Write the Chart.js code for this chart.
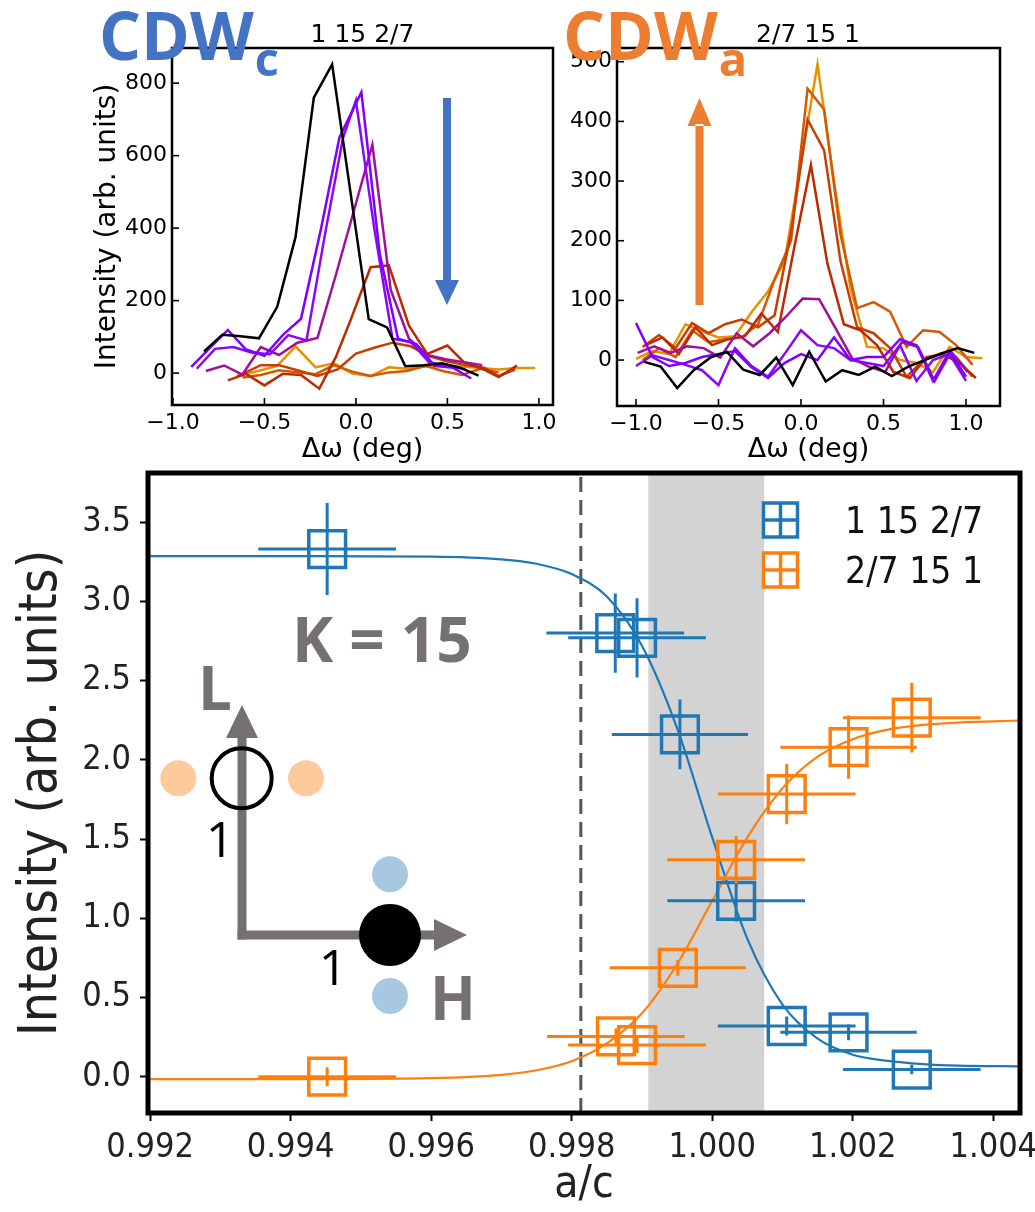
<!DOCTYPE html>
<html><head><meta charset="utf-8">
<script src="https://cdn.jsdelivr.net/npm/chart.js@4.4.1/dist/chart.umd.min.js"></script>
<style>
html,body{margin:0;padding:0;background:#fff;width:1035px;height:1212px;overflow:hidden;}
canvas{position:absolute;}
#c1{left:0;top:0;}
#c2{left:560px;top:0;}
#c3{left:0;top:460px;}
</style></head><body>
<canvas id="c1" width="560" height="470"></canvas>
<canvas id="c2" width="475" height="470"></canvas>
<canvas id="c3" width="1035" height="752"></canvas>
<script>
// ================= DATA =================
// shared omega tick labels
const omegaTicks = [-1, -0.5, 0, 0.5, 1];
const lineColors = ['#000000','#8000ff','#8c07f3','#a11096','#bd2a00','#c93e00','#d55700','#e89100'];

// ---- top-left panel: CDW_c, (1 15 2/7) ----
const tlTitle = '1 15 2/7';
const tlYTicks = [0, 200, 400, 600, 800];
const tl0X = [-0.83,-0.73,-0.63,-0.53,-0.43,-0.33,-0.23,-0.13,-0.03,0.07,0.17,0.27,0.37,0.47,0.57,0.67];
const tl0Y = [60,106,102,96,183,375,760,852,500,149,126,19,22,27,15,-7];
const tl1X = [-0.90,-0.80,-0.70,-0.60,-0.50,-0.40,-0.30,-0.19,-0.09,0.03,0.13,0.23,0.33,0.43,0.53,0.63];
const tl1Y = [17,68,119,65,48,105,150,400,650,775,330,95,80,20,15,-15];
const tl2X = [-0.87,-0.77,-0.67,-0.57,-0.47,-0.37,-0.27,-0.17,-0.07,0.00,0.10,0.20,0.30,0.40,0.50,0.60];
const tl2Y = [12,67,72,57,52,105,90,380,650,752,400,95,86,30,20,10];
const tl3X = [-0.82,-0.72,-0.62,-0.52,-0.42,-0.32,-0.21,-0.11,-0.01,0.09,0.19,0.29,0.39,0.49,0.59,0.69];
const tl3Y = [6,21,-4,72,50,84,97,270,450,630,230,95,50,38,30,22];
const tl4X = [-0.70,-0.60,-0.50,-0.40,-0.30,-0.20,-0.11,-0.03,0.08,0.18,0.29,0.39,0.50,0.59,0.69,0.78,0.88];
const tl4Y = [-20,-2,-34,-2,-5,-43,44,145,292,297,131,53,76,30,12,-11,21];
const tl5X = [-0.65,-0.52,-0.42,-0.32,-0.21,-0.10,0.00,0.10,0.20,0.30,0.40,0.50,0.60,0.70,0.78,0.87];
const tl5Y = [-10,22,22,8,-8,10,54,70,84,74,47,32,22,15,-8,10];
const tl6X = [-0.62,-0.52,-0.42,-0.32,-0.22,-0.12,-0.02,0.08,0.18,0.28,0.38,0.48,0.58,0.68,0.78];
const tl6Y = [-12,-5,8,2,-3,22,4,-8,2,6,20,5,-5,12,2];
const tl7X = [-0.65,-0.54,-0.43,-0.33,-0.22,-0.12,-0.02,0.08,0.18,0.28,0.38,0.48,0.58,0.68,0.78,0.88,0.98];
const tl7Y = [-8,5,20,74,16,27,-1,-8,16,12,18,20,18,14,10,14,14];

// ---- top-right panel: CDW_a, (2/7 15 1) ----
const trTitle = '2/7 15 1';
const trYTicks = [0, 100, 200, 300, 400, 500];
const tr0X = [-0.95,-0.85,-0.75,-0.65,-0.55,-0.45,-0.35,-0.25,-0.15,-0.05,0.05,0.15,0.25,0.35,0.45,0.55,0.65,0.75,0.85,0.95,1.05];
const tr0Y = [-3,-11,-47,-17,4,14,-16,-25,4,-42,14,-36,-17,-25,-11,-27,-11,0,11,20,12];
const tr1X = [-1.0,-0.9,-0.8,-0.7,-0.6,-0.5,-0.4,-0.3,-0.2,-0.1,0.0,0.1,0.2,0.3,0.4,0.5,0.6,0.7,0.8,0.9,1.0];
const tr1Y = [62,5,-10,-5,5,10,15,-12,-30,-5,10,0,38,0,5,5,35,25,-35,15,-28];
const tr2X = [-1.0,-0.9,-0.8,-0.7,-0.6,-0.5,-0.4,-0.3,-0.2,-0.1,0.0,0.1,0.2,0.3,0.4,0.5,0.6,0.7,0.8,0.9,1.0];
const tr2Y = [-10,8,0,-8,-17,-42,20,-10,-28,10,50,25,20,0,-5,-10,25,-35,0,10,-35];
const tr3X = [-0.99,-0.89,-0.79,-0.69,-0.59,-0.49,-0.39,-0.29,-0.19,-0.09,0.01,0.11,0.21,0.31,0.41,0.51,0.61,0.71,0.81,0.91,1.01];
const tr3Y = [12,23,12,23,20,4,45,23,45,73,103,102,53,3,-11,-20,30,22,-35,14,-20];
const tr4X = [-0.94,-0.84,-0.74,-0.64,-0.54,-0.44,-0.34,-0.24,-0.14,-0.04,0.06,0.16,0.26,0.36,0.46,0.56,0.66,0.76,0.86,0.96,1.06];
const tr4Y = [25,38,10,55,25,35,40,78,47,190,327,162,60,50,25,-20,-30,5,10,-5,-30];
const tr5X = [-0.96,-0.86,-0.76,-0.66,-0.56,-0.46,-0.36,-0.26,-0.16,-0.06,0.04,0.14,0.24,0.34,0.44,0.54,0.64,0.74,0.84,0.94,1.04];
const tr5Y = [22,42,20,62,45,60,68,55,75,215,403,352,165,55,45,20,-28,0,10,5,-28];
const tr6X = [-0.96,-0.86,-0.76,-0.66,-0.56,-0.46,-0.36,-0.26,-0.16,-0.06,0.04,0.14,0.24,0.34,0.44,0.54,0.64,0.74,0.84,0.94,1.04];
const tr6Y = [0,20,5,50,30,35,38,60,135,200,455,420,210,87,97,81,22,50,47,25,-8];
const tr7X = [-1.0,-0.9,-0.8,-0.7,-0.6,-0.5,-0.4,-0.3,-0.2,-0.1,0.0,0.1,0.2,0.3,0.4,0.5,0.6,0.7,0.8,0.9,1.0,1.1];
const tr7Y = [2,15,10,60,48,38,40,80,115,165,330,496,300,120,22,20,0,-5,-20,22,5,3];

// ---- bottom panel: intensity vs a/c ----
const acTicks = [0.992,0.994,0.996,0.998,1.000,1.002,1.004];
const intTicks = [0,0.5,1,1.5,2,2.5,3,3.5];
const blueLabel = '1 15 2/7';
const blueAC = [0.99452,0.99862,0.99893,0.99954,1.00034,1.00106,1.00194,1.00284];
const blueI = [3.33,2.80,2.77,2.16,1.11,0.32,0.28,0.045];
const blueACerr = [0.00098,0.00098,0.00098,0.00097,0.00098,0.00098,0.00097,0.00098];
const blueIerr = [0.29,0.25,0.25,0.22,0.13,0.06,0.05,0.03];
const orangeLabel = '2/7 15 1';
const orangeAC = [0.99452,0.99863,0.99893,0.99951,1.00034,1.00106,1.00194,1.00284];
const orangeI = [0.0,0.254,0.20,0.687,1.369,1.784,2.08,2.266];
const orangeACerr = [0.00098,0.00098,0.00098,0.00097,0.00098,0.00098,0.00097,0.00098];
const orangeIerr = [0.06,0.05,0.05,0.05,0.15,0.19,0.20,0.22];
const fitAC = [0.992,0.994,0.996,0.997,0.9975,0.998,0.9985,0.999,0.9995,1.000,1.0005,1.001,1.0015,1.002,1.0025,1.003,1.0035,1.00438];
const blueFit = [3.285,3.285,3.282,3.265,3.237,3.172,3.03,2.72,2.20,1.51,0.87,0.455,0.24,0.139,0.10,0.08,0.07,0.065];
const orangeFit = [-0.015,-0.015,-0.009,0.012,0.041,0.098,0.21,0.40,0.71,1.11,1.51,1.82,2.02,2.13,2.19,2.22,2.235,2.248];
const shadeRange = [0.99909, 1.00074];
const dashedAC = 0.99813;

// ================= STYLE =================
const FONT = "'DejaVu Sans', sans-serif";
const CFONT = "'DejaVu Sans Condensed', 'DejaVu Sans', sans-serif";
const BLUE = '#1f77b4', ORANGE = '#ff7f0e', GRAY = '#767171';

function pts(xs, ys){ return xs.map((x,i)=>({x:x, y:ys[i]})); }
function lineDs(xs, ys, color){
  return {data: pts(xs, ys), borderColor: color, backgroundColor: color, borderWidth: 2.5,
          showLine: true, pointRadius: 0, pointHoverRadius: 0, tension: 0, fill: false};
}
function fmtOmega(v){ return v < 0 ? '\u2212' + Math.abs(v).toFixed(1) : v.toFixed(1); }
function noPadX(s){ s.paddingLeft = 0; s.paddingRight = 0; }
function noPadY(s){ s.paddingTop = 0; s.paddingBottom = 0; }

const topFrame = {
  id: 'topFrame',
  afterDatasetsDraw(chart){
    const {ctx, chartArea: a, scales: {x, y}} = chart;
    ctx.save();
    ctx.strokeStyle = '#000'; ctx.lineWidth = 2.5;
    ctx.strokeRect(a.left, a.top, a.right - a.left, a.bottom - a.top);
    ctx.lineWidth = 1.6;
    x.ticks.forEach(t => { const p = x.getPixelForValue(t.value);
      ctx.beginPath(); ctx.moveTo(p, a.bottom); ctx.lineTo(p, a.bottom - 7); ctx.stroke(); });
    y.ticks.forEach(t => { const p = y.getPixelForValue(t.value);
      ctx.beginPath(); ctx.moveTo(a.left, p); ctx.lineTo(a.left + 7, p); ctx.stroke(); });
    ctx.restore();
  },
  afterDraw(chart, args, o){
    const ctx = chart.ctx;
    ctx.save();
    ctx.fillStyle = '#000'; ctx.font = '25px ' + FONT; ctx.textAlign = 'center'; ctx.textBaseline = 'alphabetic';
    ctx.fillText(o.title, o.titleX, 42);
    ctx.fillStyle = o.color; ctx.textAlign = 'left';
    ctx.font = "bold 66px 'Open Sans', sans-serif";
    ctx.fillText('CDW', o.cdwX, 60);
    const w = ctx.measureText('CDW').width;
    ctx.font = "bold 47px 'Open Sans', sans-serif";
    ctx.fillText(o.sub, o.cdwX + w + 1, 76);
    const ax = o.arrowX, hw = 12, sw = 4;
    ctx.beginPath();
    if (o.arrowDown){
      ctx.rect(ax - sw, 98, 2*sw, 282 - 98);
      ctx.moveTo(ax - hw, 280); ctx.lineTo(ax + hw, 280); ctx.lineTo(ax, 305); ctx.closePath();
    } else {
      ctx.rect(ax - sw, 124, 2*sw, 305 - 124);
      ctx.moveTo(ax - hw, 126); ctx.lineTo(ax + hw, 126); ctx.lineTo(ax, 98); ctx.closePath();
    }
    ctx.fill();
    ctx.restore();
  }
};

function topOptions(cfg){
  return {
    responsive: false, animation: false, devicePixelRatio: 1,
    layout: {autoPadding: false, padding: {left: 0, right: cfg.padRight, top: 48, bottom: 0}},
    plugins: {legend: {display: false}, tooltip: {enabled: false}, topFrame: cfg.deco},
    events: [],
    scales: {
      x: {type: 'linear', min: cfg.xmin, max: cfg.xmax,
        afterBuildTicks: s => { s.ticks = omegaTicks.map(v => ({value: v})); },
        afterFit: s => { s.height = 470 - cfg.bottom; noPadX(s); },
        grid: {display: false, drawTicks: false}, border: {display: false},
        ticks: {padding: 5, autoSkip: false, maxRotation: 0, color: '#000', font: {family: FONT, size: 22}, callback: v => fmtOmega(v)},
        title: {display: true, text: '\u0394\u03c9 (deg)', color: '#000', font: {family: FONT, size: 27}, padding: {top: 0, bottom: 4}}
      },
      y: {type: 'linear', min: cfg.ymin, max: cfg.ymax,
        afterBuildTicks: s => { s.ticks = cfg.yticks.map(v => ({value: v})); },
        afterFit: s => { s.width = cfg.left; noPadY(s); },
        grid: {display: false, drawTicks: false}, border: {display: false},
        ticks: {padding: 5, autoSkip: false, color: '#000', font: {family: FONT, size: 22}, callback: v => String(v)},
        title: cfg.ytitle ? {display: true, text: cfg.ytitle, color: '#000', font: {family: FONT, size: 28}, padding: {top: 91, bottom: 0}} : {display: false}
      }
    }
  };
}

const tlSets = [[tl0X,tl0Y],[tl1X,tl1Y],[tl2X,tl2Y],[tl3X,tl3Y],[tl4X,tl4Y],[tl5X,tl5Y],[tl6X,tl6Y],[tl7X,tl7Y]];
const trSets = [[tr0X,tr0Y],[tr1X,tr1Y],[tr2X,tr2Y],[tr3X,tr3Y],[tr4X,tr4Y],[tr5X,tr5Y],[tr6X,tr6Y],[tr7X,tr7Y]];

new Chart(document.getElementById('c1'), {
  type: 'scatter',
  data: {datasets: tlSets.map((s,i) => lineDs(s[0], s[1], lineColors[i]))},
  options: topOptions({xmin: -1.005, xmax: 1.077, ymin: -88, ymax: 897, yticks: tlYTicks,
    left: 172, padRight: 7, bottom: 405, ytitle: 'Intensity (arb. units)',
    deco: {title: tlTitle, titleX: 362.5, color: '#4472c4', sub: 'c', cdwX: 99, arrowX: 447, arrowDown: true}}),
  plugins: [topFrame]
});

new Chart(document.getElementById('c2'), {
  type: 'scatter',
  data: {datasets: trSets.map((s,i) => lineDs(s[0], s[1], lineColors[i]))},
  options: topOptions({xmin: -1.115, xmax: 1.206, ymin: -77, ymax: 523, yticks: trYTicks,
    left: 57, padRight: 35, bottom: 406, ytitle: null,
    deco: {title: trTitle, titleX: 248, color: '#ed7d31', sub: 'a', cdwX: 3, arrowX: 139.5, arrowDown: false}}),
  plugins: [topFrame]
});

// ================= BOTTOM =================
function legendMarker(ctx, cx, cy, color){
  ctx.strokeStyle = color; ctx.lineWidth = 3.5;
  ctx.strokeRect(cx - 17, cy - 17, 34, 34);
  ctx.beginPath(); ctx.moveTo(cx - 17, cy); ctx.lineTo(cx + 17, cy);
  ctx.moveTo(cx, cy - 17); ctx.lineTo(cx, cy + 17); ctx.stroke();
}
function dot(ctx, x, y, r, color){ ctx.fillStyle = color; ctx.beginPath(); ctx.arc(x, y, r, 0, Math.PI*2); ctx.fill(); }

const bottomDeco = {
  id: 'bottomDeco',
  beforeDatasetsDraw(chart, args, o){
    const {ctx, chartArea: a, scales: {x}} = chart;
    ctx.save();
    const x1 = x.getPixelForValue(o.shade[0]), x2 = x.getPixelForValue(o.shade[1]);
    ctx.fillStyle = '#d3d3d3';
    ctx.fillRect(x1, a.top, x2 - x1, a.bottom - a.top);
    const xd = x.getPixelForValue(o.dashed);
    ctx.strokeStyle = '#555'; ctx.lineWidth = 3; ctx.setLineDash([15, 8]);
    ctx.beginPath(); ctx.moveTo(xd, a.bottom); ctx.lineTo(xd, a.top); ctx.stroke();
    ctx.restore();
  },
  afterDatasetsDraw(chart){
    const {ctx, scales: {x, y}} = chart;
    chart.data.datasets.forEach(ds => {
      if (!ds.xErr) return;
      ctx.save(); ctx.strokeStyle = ds.borderColor; ctx.lineWidth = 3;
      ds.data.forEach((p, i) => {
        const px = x.getPixelForValue(p.x), py = y.getPixelForValue(p.y);
        ctx.beginPath();
        ctx.moveTo(x.getPixelForValue(p.x - ds.xErr[i]), py); ctx.lineTo(x.getPixelForValue(p.x + ds.xErr[i]), py);
        ctx.moveTo(px, y.getPixelForValue(p.y + ds.yErr[i])); ctx.lineTo(px, y.getPixelForValue(p.y - ds.yErr[i]));
        ctx.stroke();
      });
      ctx.restore();
    });
  },
  afterDraw(chart){
    const {ctx, chartArea: a} = chart;
    ctx.save();
    ctx.strokeStyle = '#000'; ctx.lineWidth = 5;
    ctx.strokeRect(a.left, a.top, a.right - a.left, a.bottom - a.top);
    const ds = chart.data.datasets.filter(d => d.xErr);
    ds.forEach((d, i) => {
      const cy = 60 + i * 50;
      legendMarker(ctx, 780.5, cy, d.borderColor);
      ctx.fillStyle = '#111'; ctx.font = '37px ' + CFONT; ctx.textAlign = 'left'; ctx.textBaseline = 'alphabetic';
      ctx.fillText(d.label, 845, cy + 13);
    });
    // inset reciprocal-space sketch
    ctx.fillStyle = GRAY;
    ctx.fillRect(237.5, 277, 9, 202.5);
    ctx.fillRect(237.5, 470.5, 198, 9);
    ctx.beginPath(); ctx.moveTo(226, 278); ctx.lineTo(258, 278); ctx.lineTo(242, 245); ctx.closePath(); ctx.fill();
    ctx.beginPath(); ctx.moveTo(434, 459); ctx.lineTo(434, 491); ctx.lineTo(467, 475); ctx.closePath(); ctx.fill();
    ctx.font = "bold 62px 'Open Sans', sans-serif"; ctx.textAlign = 'left'; ctx.textBaseline = 'alphabetic';
    ctx.fillText('K = 15', 292, 202);
    ctx.font = "bold 60px 'Open Sans', sans-serif";
    ctx.fillText('L', 198, 250);
    ctx.fillText('H', 430, 560);
    ctx.fillStyle = '#000'; ctx.font = "50px 'Open Sans', sans-serif"; ctx.textAlign = 'center';
    ctx.fillText('1', 220, 397);
    ctx.fillText('1', 333, 525);
    dot(ctx, 178.3, 318.3, 18, '#fdca9b');
    dot(ctx, 306, 318.3, 18, '#fdca9b');
    ctx.strokeStyle = '#000'; ctx.lineWidth = 4;
    ctx.beginPath(); ctx.arc(241.7, 318.3, 30, 0, Math.PI*2); ctx.stroke();
    dot(ctx, 390, 475, 31, '#000');
    dot(ctx, 390, 414.3, 18, '#a8c8e1');
    dot(ctx, 390, 536, 18, '#a8c8e1');
    ctx.restore();
  }
};

const bottomAxisFont = {family: CFONT, size: 34};
new Chart(document.getElementById('c3'), {
  type: 'scatter',
  data: {datasets: [
    {label: 'fit-blue', data: pts(fitAC, blueFit), showLine: true, borderColor: BLUE, backgroundColor: BLUE,
     borderWidth: 2.2, pointRadius: 0, pointHoverRadius: 0, cubicInterpolationMode: 'monotone', order: 3},
    {label: 'fit-orange', data: pts(fitAC, orangeFit), showLine: true, borderColor: ORANGE, backgroundColor: ORANGE,
     borderWidth: 2.2, pointRadius: 0, pointHoverRadius: 0, cubicInterpolationMode: 'monotone', order: 2},
    {label: blueLabel, data: pts(blueAC, blueI), xErr: blueACerr, yErr: blueIerr, borderColor: BLUE,
     backgroundColor: 'rgba(0,0,0,0)', pointStyle: 'rect', pointRadius: 26, pointBorderWidth: 3.5, borderWidth: 3.5, order: 1},
    {label: orangeLabel, data: pts(orangeAC, orangeI), xErr: orangeACerr, yErr: orangeIerr, borderColor: ORANGE,
     backgroundColor: 'rgba(0,0,0,0)', pointStyle: 'rect', pointRadius: 26, pointBorderWidth: 3.5, borderWidth: 3.5, order: 0}
  ]},
  options: {
    responsive: false, animation: false, devicePixelRatio: 1, events: [],
    layout: {autoPadding: false, padding: {left: 0, right: 15, top: 13, bottom: 0}},
    plugins: {legend: {display: false}, tooltip: {enabled: false}, bottomDeco: {shade: shadeRange, dashed: dashedAC}},
    scales: {
      x: {type: 'linear', min: 0.99197, max: 1.00438,
        afterBuildTicks: s => { s.ticks = acTicks.map(v => ({value: v})); },
        afterFit: s => { s.height = 99; noPadX(s); },
        grid: {display: true, drawOnChartArea: false, drawTicks: true, tickLength: 8, tickColor: '#000', tickWidth: 2},
        border: {display: false},
        ticks: {padding: 7, autoSkip: false, maxRotation: 0, color: '#222', font: bottomAxisFont, callback: v => v.toFixed(3)},
        title: {display: true, text: 'a/c', color: '#222', font: {family: CFONT, size: 44}, padding: {top: 0, bottom: 0}}
      },
      y: {type: 'linear', min: -0.229, max: 3.81,
        afterBuildTicks: s => { s.ticks = intTicks.map(v => ({value: v})); },
        afterFit: s => { s.width = 148; noPadY(s); },
        grid: {display: true, drawOnChartArea: false, drawTicks: true, tickLength: 8, tickColor: '#000', tickWidth: 2},
        border: {display: false},
        ticks: {padding: 9, autoSkip: false, color: '#222', font: bottomAxisFont, callback: v => v.toFixed(1)},
        title: {display: true, text: 'Intensity (arb. units)', color: '#222', font: {family: CFONT, size: 53}, padding: {top: 10, bottom: 0}}
      }
    }
  },
  plugins: [bottomDeco]
});
</script>
</body></html>
